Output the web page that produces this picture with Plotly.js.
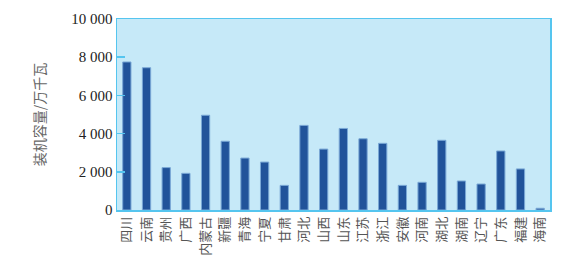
<!DOCTYPE html>
<html>
<head>
<meta charset="utf-8">
<script src="https://cdn.plot.ly/plotly-3.0.1.min.js"></script>
<style>html,body{margin:0;padding:0;background:#fff;}#chart{width:564px;height:256px;}</style>
</head>
<body>
<div id="chart"></div>
<script>
const provinces = ["四川","云南","贵州","广西","内蒙古","新疆","青海","宁夏","甘肃","河北","山西","山东","江苏","浙江","安徽","河南","湖北","湖南","辽宁","广东","福建","海南"];
const capacity = [7750,7450,2220,1920,4960,3600,2720,2510,1290,4430,3190,4270,3730,3490,1290,1450,3650,1520,1360,3090,2150,90];
const yTickVals = [0,2000,4000,6000,8000,10000];
const yTickText = ["0","2 000","4 000","6 000","8 000","10 000"];

const trace = {
  type: "bar",
  x: provinces,
  y: capacity,
  marker: {color: "#21539a", line: {color: "#7aa8d6", width: 1}},
  hoverinfo: "x+y"
};
const layout = {
  width: 564, height: 256,
  margin: {l: 117, r: 14, t: 19, b: 46, pad: 0},
  paper_bgcolor: "#ffffff",
  plot_bgcolor: "#c6e9f8",
  bargap: 0.58,
  showlegend: false,
  xaxis: {
    type: "category",
    tickangle: -90,
    tickfont: {family: "Noto Sans CJK SC", size: 13, color: "#555555"},
    showline: true, linecolor: "#55c5ef", linewidth: 1.5, mirror: true,
    ticks: "", showgrid: false, automargin: false
  },
  yaxis: {
    range: [0, 10000],
    tickvals: yTickVals, ticktext: yTickText,
    tickfont: {family: "Liberation Serif", size: 15, color: "#222222"},
    ticks: "inside", ticklen: 8, tickcolor: "#55c5ef", tickwidth: 1.5,
    showline: true, linecolor: "#55c5ef", linewidth: 1.5, mirror: true,
    showgrid: false, zeroline: false, automargin: false,
    title: {text: "装机容量/万千瓦", font: {family: "Noto Sans CJK SC", size: 14, color: "#666666"}, standoff: 22}
  }
};
Plotly.newPlot("chart", [trace], layout, {displayModeBar: false, staticPlot: true});
</script>
</body>
</html>
